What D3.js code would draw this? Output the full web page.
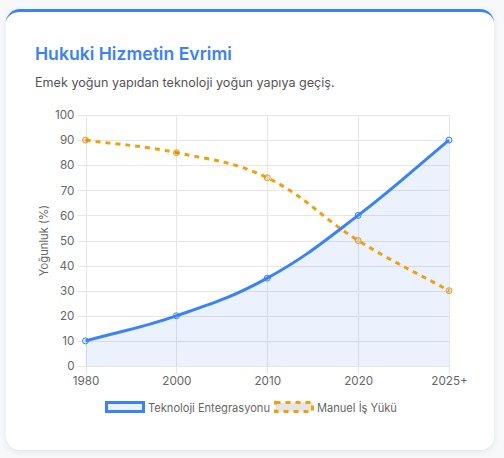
<!DOCTYPE html>
<meta charset="utf-8">
<script src="https://d3js.org/d3.v7.min.js"></script>
<style>
  body { margin: 0; background: #f7f8fa; font-family: Inter, "Noto Sans", sans-serif; }
  #card {
    position: absolute; left: 6px; top: 9px; width: 488px; height: 441px;
    box-sizing: border-box; background: #fff; border-radius: 14px;
    border-top: 3px solid #3b82f6;
    box-shadow: 0 2px 6px rgba(0,0,0,0.08);
  }
  #my_dataviz { position: absolute; left: 0; top: 0; }
</style>
<div id="card"></div>
<div id="my_dataviz"></div>

<script>
// data
var years = ["1980", "2000", "2010", "2020", "2025+"];
var techIntegration = [10, 20, 35, 60, 90];
var manualWork = [90, 85, 75, 50, 30];
var yTicks = [0, 10, 20, 30, 40, 50, 60, 70, 80, 90, 100];

var W = 504, H = 458;
var plot = {left: 85.5, right: 449, top: 115, bottom: 366};

var svg = d3.select("#my_dataviz")
  .append("svg")
    .attr("width", W)
    .attr("height", H)
    .style("font-family", "Inter, 'Noto Sans', sans-serif");

// titles
svg.append("text")
  .attr("x", 35).attr("y", 60)
  .attr("fill", "#3b82f6")
  .attr("font-size", 17.6).attr("font-weight", 600)
  .text("Hukuki Hizmetin Evrimi");

svg.append("text")
  .attr("x", 35).attr("y", 87)
  .attr("fill", "#555")
  .attr("font-size", 12.6)
  .text("Emek yoğun yapıdan teknoloji yoğun yapıya geçiş.");

// scales
var x = d3.scalePoint()
  .domain(years)
  .range([plot.left, plot.right]);

var y = d3.scaleLinear()
  .domain([0, 100])
  .range([plot.bottom, plot.top]);

// grid
var grid = svg.append("g").attr("stroke", "#e6e6e6").attr("stroke-width", 1);
grid.selectAll(".h")
  .data(yTicks)
  .enter().append("line")
    .attr("x1", plot.left - 8).attr("x2", plot.right)
    .attr("y1", function(d) { return Math.round(y(d)) + 0.5; })
    .attr("y2", function(d) { return Math.round(y(d)) + 0.5; });
grid.selectAll(".v")
  .data(years)
  .enter().append("line")
    .attr("y1", plot.top).attr("y2", plot.bottom + 8)
    .attr("x1", function(d) { return Math.round(x(d)) + 0.5; })
    .attr("x2", function(d) { return Math.round(x(d)) + 0.5; });

// axes
var yAxis = svg.append("g")
  .attr("transform", "translate(" + plot.left + ",0)")
  .call(d3.axisLeft(y).tickValues(yTicks).tickSize(0).tickPadding(11));
var xAxis = svg.append("g")
  .attr("transform", "translate(0," + plot.bottom + ")")
  .call(d3.axisBottom(x).tickSize(0).tickPadding(11));
[xAxis, yAxis].forEach(function(a) {
  a.select(".domain").remove();
  a.selectAll("text")
    .attr("fill", "#666")
    .style("font-family", "Inter, 'Noto Sans', sans-serif")
    .attr("font-size", 11.7);
});

svg.append("text")
  .attr("transform", "translate(48," + ((plot.top + plot.bottom) / 2) + ") rotate(-90)")
  .attr("text-anchor", "middle")
  .attr("fill", "#666")
  .attr("font-size", 11.2)
  .text("Yoğunluk (%)");

// Chart.js-like bezier spline (tension 0.4) through scaled points
function splinePath(values, close) {
  var pts = values.map(function(v, i) { return {x: x(years[i]), y: y(v)}; });
  var t = 0.4;
  pts.forEach(function(p, i) {
    var prev = pts[i - 1] || p, next = pts[i + 1] || p;
    var d01 = Math.hypot(p.x - prev.x, p.y - prev.y);
    var d12 = Math.hypot(next.x - p.x, next.y - p.y);
    var s01 = d01 / (d01 + d12) || 0, s12 = d12 / (d01 + d12) || 0;
    var fa = t * s01, fb = t * s12;
    p.cpPrev = {x: p.x - fa * (next.x - prev.x), y: p.y - fa * (next.y - prev.y)};
    p.cpNext = {x: p.x + fb * (next.x - prev.x), y: p.y + fb * (next.y - prev.y)};
  });
  var path = d3.path();
  path.moveTo(pts[0].x, pts[0].y);
  for (var i = 1; i < pts.length; i++) {
    var a = pts[i - 1], b = pts[i];
    path.bezierCurveTo(a.cpNext.x, a.cpNext.y, b.cpPrev.x, b.cpPrev.y, b.x, b.y);
  }
  if (close) {
    path.lineTo(pts[pts.length - 1].x, y(0));
    path.lineTo(pts[0].x, y(0));
    path.closePath();
  }
  return path.toString();
}

// fill under tech line
svg.append("path")
  .attr("d", splinePath(techIntegration, true))
  .attr("fill", "rgba(59,130,246,0.1)");

// manual work line (dashed)
svg.append("path")
  .attr("d", splinePath(manualWork, false))
  .attr("fill", "none")
  .attr("stroke", "#f59e0b")
  .attr("stroke-width", 3)
  .attr("stroke-dasharray", "5,5");

svg.append("g").selectAll("circle")
  .data(manualWork)
  .enter().append("circle")
    .attr("cx", function(d, i) { return x(years[i]); })
    .attr("cy", function(d) { return y(d); })
    .attr("r", 3)
    .attr("fill", "rgba(0,0,0,0.1)")
    .attr("stroke", "#f59e0b")
    .attr("stroke-width", 1);

// tech line
svg.append("path")
  .attr("d", splinePath(techIntegration, false))
  .attr("fill", "none")
  .attr("stroke", "#3b82f6")
  .attr("stroke-width", 3);

svg.append("g").selectAll("circle")
  .data(techIntegration)
  .enter().append("circle")
    .attr("cx", function(d, i) { return x(years[i]); })
    .attr("cy", function(d) { return y(d); })
    .attr("r", 3)
    .attr("fill", "rgba(59,130,246,0.1)")
    .attr("stroke", "#3b82f6")
    .attr("stroke-width", 1);

// legend
var legend = [
  {label: "Teknoloji Entegrasyonu", stroke: "#3b82f6", fill: "rgba(59,130,246,0.1)", dash: null, x: 105},
  {label: "Manuel İş Yükü", stroke: "#f59e0b", fill: "rgba(0,0,0,0.1)", dash: "5,5", x: 274}
];
var lg = svg.append("g").selectAll("g")
  .data(legend)
  .enter().append("g")
    .attr("transform", function(d) { return "translate(" + d.x + ",401)"; });
lg.append("rect")
  .attr("x", 1.5).attr("y", 1.5)
  .attr("width", 37).attr("height", 9)
  .attr("fill", function(d) { return d.fill; })
  .attr("stroke", function(d) { return d.stroke; })
  .attr("stroke-width", 3)
  .attr("stroke-dasharray", function(d) { return d.dash; });
lg.append("text")
  .attr("x", 43).attr("y", 10.5)
  .attr("fill", "#666")
  .attr("font-size", 11.1)
  .text(function(d) { return d.label; });
</script>
